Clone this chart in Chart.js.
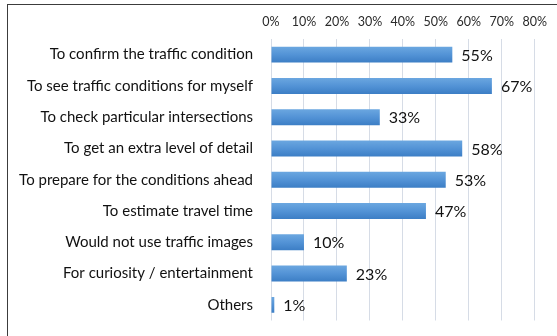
<!DOCTYPE html>
<html>
<head>
<meta charset="utf-8">
<script src="https://cdn.jsdelivr.net/npm/chart.js@4"></script>
<style>
  html, body { margin: 0; padding: 0; background: #ffffff; }
  body { width: 557px; height: 336px; position: relative; overflow: hidden; }
  #frame { position: absolute; left: 7px; top: 4px; right: -2px; bottom: -2px;
           border-top: 1px solid #3c3c3c; border-left: 1px solid #3c3c3c; }
  #wrap { position: absolute; left: 0; top: 0; width: 557px; height: 336px; }
</style>
</head>
<body>
<div id="frame"></div>
<div id="wrap"><canvas id="c" width="557" height="336"></canvas></div>
<script>
// Reasons for using traffic images (share of respondents, %)
const categories = [
  'To confirm the traffic condition',
  'To see traffic conditions for myself',
  'To check particular intersections',
  'To get an extra level of detail',
  'To prepare for the conditions ahead',
  'To estimate travel time',
  'Would not use traffic images',
  'For curiosity / entertainment',
  'Others'
];
const shares = [55, 67, 33, 58, 53, 47, 10, 23, 1];
const axisTicks = [0, 10, 20, 30, 40, 50, 60, 70, 80];

const FONT = 'Lato, "Open Sans", sans-serif';

// Vertical gradient for each bar, lighter on top
function barFill(ctx) {
  const chart = ctx.chart;
  if (!chart.chartArea || !chart.scales.y) return '#5b9bd5';
  const y = chart.scales.y.getPixelForValue(ctx.dataIndex);
  const half = 8;
  const g = chart.ctx.createLinearGradient(0, y - half, 0, y + half);
  g.addColorStop(0, '#6ba7e0');
  g.addColorStop(0.5, '#5393d6');
  g.addColorStop(1, '#3c7ec5');
  return g;
}

// Percentage labels just past the end of each bar
const valueLabels = {
  id: 'valueLabels',
  afterDatasetsDraw(chart) {
    const ctx = chart.ctx;
    const meta = chart.getDatasetMeta(0);
    ctx.save();
    ctx.font = '16px ' + FONT;
    ctx.fillStyle = '#111111';
    ctx.textAlign = 'left';
    ctx.textBaseline = 'middle';
    meta.data.forEach((bar, i) => {
      ctx.fillText(shares[i] + '%', bar.x + 9, bar.y + 1);
    });
    ctx.restore();
  }
};

new Chart(document.getElementById('c'), {
  type: 'bar',
  data: {
    labels: categories,
    datasets: [{
      data: shares,
      backgroundColor: barFill,
      borderWidth: 0,
      barPercentage: 0.51,
      categoryPercentage: 1.0
    }]
  },
  options: {
    indexAxis: 'y',
    responsive: false,
    animation: false,
    devicePixelRatio: 1,
    layout: { padding: { left: 0, right: 22, top: 0, bottom: 15.5 } },
    plugins: {
      legend: { display: false },
      tooltip: { enabled: false }
    },
    scales: {
      x: {
        position: 'top',
        min: axisTicks[0],
        max: axisTicks[axisTicks.length - 1],
        afterBuildTicks(scale) { scale.ticks = axisTicks.map(v => ({ value: v })); },
        afterFit(scale) { scale.height = 39; },
        border: { display: false },
        grid: { color: '#d6dce6', lineWidth: 1, drawTicks: false },
        ticks: {
          padding: 10,
          color: '#2a2a2a',
          font: { family: FONT, size: 12.5 },
          callback: v => v + '%'
        }
      },
      y: {
        // fixed label column; no extra room reserved above/below the bars
        afterFit(scale) {
          scale.width = 271;
          scale.paddingTop = 0;
          scale.paddingBottom = 0;
        },
        border: { display: false },
        grid: { display: false, drawTicks: false },
        ticks: {
          padding: 18,
          color: '#111111',
          font: { family: FONT, size: 15 }
        }
      }
    }
  },
  plugins: [valueLabels]
});
</script>
</body>
</html>
